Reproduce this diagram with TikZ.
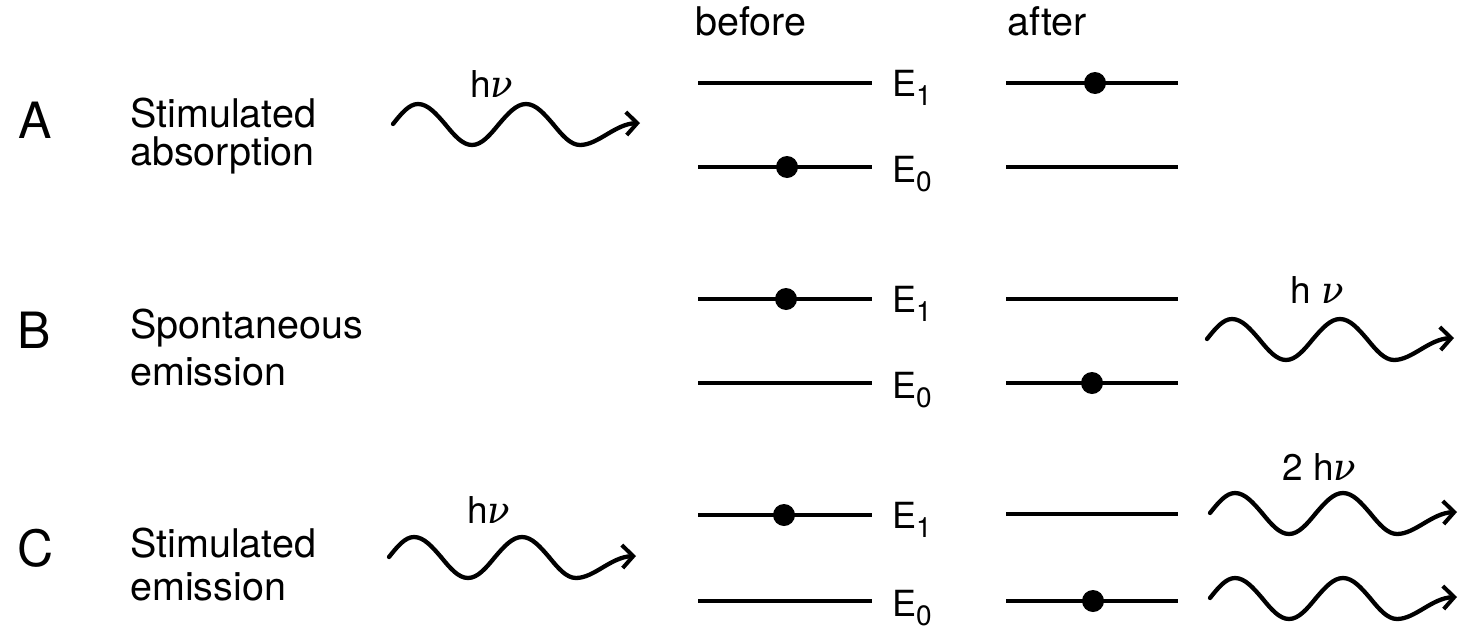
\documentclass[tikz,border=0pt]{standalone}
\usepackage{fontspec}
\setmainfont{TeX Gyre Heros}
\newfontfamily\nufont{DejaVu Serif}
\newcommand{\nusym}{{\nufont\itshape ν}}
\usetikzlibrary{arrows.meta}
\begin{document}
\begin{tikzpicture}[x=1pt,y=-1pt,
  level/.style={line width=4pt},
  electron/.style={circle,fill=black,inner sep=0pt,minimum size=22pt},
  wave/.style={line width=4.3pt,line cap=round,
    -{Straight Barb[length=11pt,width=23pt,line width=4pt]}},
  txt/.style={font=\fontsize{39.5}{40}\selectfont,inner sep=0pt,anchor=base west},
  letter/.style={font=\fontsize{50}{50}\selectfont,inner sep=0pt,anchor=base west},
  energy/.style={font=\fontsize{36}{36}\selectfont,inner sep=0pt,anchor=base west},
  photonlabel/.style={font=\fontsize{37}{37}\selectfont,inner sep=0pt,anchor=base west},
  photon/.pic={\draw[wave] (0,0) sin (25,-20) cos (52,0) sin (79,21) cos (106,0)
      sin (133,-20) cos (160,0) sin (187,21) .. controls (205,21) and (222,0) .. (247,-1);}
]
\useasboundingbox (0,0) rectangle (1461,629);

\newcommand{\sublevel}[1]{\raisebox{-9pt}{\fontsize{28}{28}\selectfont #1}}

% column headings
\node[txt] (before) at (695,35) {before};
\node[txt] (after) at (1007,35) {after};

% ---- A: stimulated absorption ----
\node[letter] (labA) at (18,138) {A};
\node[txt] (textA1) at (130,127) {Stimulated};
\node[txt] (textA2) at (130,165) {absorption};
\pic at (393,124) {photon};
\node[photonlabel] (hvA) at (470,97) {h\nusym};
\draw[level] (698,83) -- (872,83);
\draw[level] (698,167) -- (872,167);
\draw[level] (1006,83) -- (1178,83);
\draw[level] (1006,167) -- (1178,167);
\node[energy] (E1A) at (892,96) {E\sublevel{1}};
\node[energy] (E0A) at (892,182) {E\sublevel{0}};
\node[electron] (eA0) at (787,167) {};
\node[electron] (eA1) at (1095,83) {};

% ---- B: spontaneous emission ----
\node[letter] (labB) at (17,348) {B};
\node[txt] (textB1) at (130,338) {Spontaneous};
\node[txt] (textB2) at (130,385) {emission};
\draw[level] (698,299) -- (872,299);
\draw[level] (698,383) -- (872,383);
\draw[level] (1006,299) -- (1178,299);
\draw[level] (1006,383) -- (1178,383);
\node[energy] (E1B) at (892,312) {E\sublevel{1}};
\node[energy] (E0B) at (892,398) {E\sublevel{0}};
\node[electron] (eB1) at (786,299) {};
\node[electron] (eB0) at (1092,383) {};
\pic at (1207,339) {photon};
\node[photonlabel] (hvB) at (1290,303) {h \nusym};

% ---- C: stimulated emission ----
\node[letter] (labC) at (17,566) {C};
\node[txt] (textC1) at (130,557) {Stimulated};
\node[txt] (textC2) at (130,600) {emission};
\pic at (389,557) {photon};
\node[photonlabel] (hvC) at (467,523) {h\nusym};
\draw[level] (698,515) -- (872,515);
\draw[level] (698,601) -- (872,601);
\draw[level] (1006,514) -- (1178,514);
\draw[level] (1006,601) -- (1178,601);
\node[energy] (E1C) at (892,528) {E\sublevel{1}};
\node[energy] (E0C) at (892,616) {E\sublevel{0}};
\node[electron] (eC1) at (784,515) {};
\node[electron] (eC0) at (1093,601) {};
\pic at (1210,513) {photon};
\pic at (1210,598) {photon};
\node[photonlabel] (hv2C) at (1282,480) {2 h\nusym};
\end{tikzpicture}
\end{document}
